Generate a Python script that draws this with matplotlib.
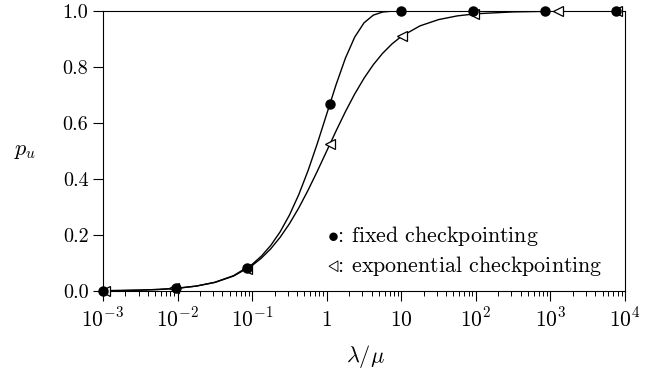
import matplotlib
matplotlib.use("Agg")
import matplotlib.pyplot as plt
import numpy as np

# curve samples
curve_x = [1e-3, 0.00178, 0.00316, 0.00562, 0.01, 0.0178, 0.0316, 0.0562, 0.1,
           0.1334, 0.1778, 0.2371, 0.3162, 0.4217, 0.5623, 0.7499, 1.0, 1.3335,
           1.778, 2.371, 3.162, 4.217, 5.623, 7.499, 10.0, 17.78, 31.62, 56.23,
           100.0, 316.2, 1000.0, 3162.0, 10000.0]
fixed_curve = [0.001, 0.0018, 0.0032, 0.0056, 0.0100, 0.0176, 0.0311, 0.0547, 0.0952,
               0.1249, 0.1629, 0.2111, 0.2711, 0.3441, 0.4301, 0.5276, 0.6321, 0.7364,
               0.8310, 0.9066, 0.9577, 0.9853, 0.9964, 0.9995, 1.0, 1.0, 1.0, 1.0,
               1.0, 1.0, 1.0, 1.0, 1.0]
exp_curve = [0.001, 0.0018, 0.0032, 0.0056, 0.0099, 0.0175, 0.0306, 0.0532, 0.0909,
             0.1177, 0.1509, 0.1917, 0.2402, 0.2966, 0.3600, 0.4285, 0.5000, 0.5714,
             0.6400, 0.7034, 0.7597, 0.8083, 0.8490, 0.8823, 0.9091, 0.9468, 0.9693,
             0.9825, 0.9901, 0.9968, 0.9990, 0.9997, 0.9999]

# markers
fixed_x = [1e-3, 0.0095, 0.085, 1.1, 10, 91, 850, 7600]
fixed_y = [0.001, 0.0095, 0.081, 0.667, 1.0, 1.0, 1.0, 1.0]
exp_x = [1.08e-3, 0.0090, 0.085, 1.12, 10.3, 95, 1260, 7900]
exp_y = [0.001, 0.0090, 0.078, 0.524, 0.909, 0.990, 0.999, 1.0]

xtick_vals = [1e-3, 1e-2, 1e-1, 1, 10, 1e2, 1e3, 1e4]
xtick_labels = [r"$10^{-3}$", r"$10^{-2}$", r"$10^{-1}$", r"$1$", r"$10$",
                r"$10^{2}$", r"$10^{3}$", r"$10^{4}$"]
ytick_vals = [0.0, 0.2, 0.4, 0.6, 0.8, 1.0]
ytick_labels = ["0.0", "0.2", "0.4", "0.6", "0.8", "1.0"]

plt.rcParams["mathtext.fontset"] = "cm"
plt.rcParams["font.family"] = ["cmr10", "DejaVu Serif"]
plt.rcParams["axes.unicode_minus"] = False

fig = plt.figure(figsize=(6.58, 3.77), dpi=100)
ax = fig.add_axes([103/658, 1-291/377, 522/658, 280/377])

ax.plot(curve_x, fixed_curve, color="black", lw=1.0, zorder=2)
ax.plot(curve_x, exp_curve, color="black", lw=1.0, zorder=2)
ax.plot(fixed_x, fixed_y, ls="none", marker="o", ms=6.5, color="black", zorder=4, clip_on=False)
ax.plot(exp_x, exp_y, ls="none", marker="<", ms=7, mfc="white", mec="black", mew=0.9,
        zorder=3, clip_on=False)

ax.set_xscale("log")
ax.set_xlim(1e-3, 1e4)
ax.set_ylim(0, 1.0)
ax.set_xticks(xtick_vals)
ax.set_xticklabels(xtick_labels)
ax.set_yticks(ytick_vals)
ax.set_yticklabels(ytick_labels)
ax.xaxis.set_minor_locator(matplotlib.ticker.LogLocator(base=10, subs=np.arange(2, 10), numticks=20))
ax.xaxis.set_minor_formatter(matplotlib.ticker.NullFormatter())
ax.tick_params(axis="both", which="major", direction="out", length=7.5, width=0.8,
               colors="black")
ax.tick_params(axis="y", which="major", labelsize=14.5, pad=3)
ax.tick_params(axis="x", which="major", labelsize=15.5, pad=18)
ax.tick_params(axis="x", which="minor", direction="out", length=3.8, width=0.7)
for lbl in ax.get_xticklabels():
    lbl.set_va("baseline")
for s in ax.spines.values():
    s.set_linewidth(0.8)
    s.set_color("black")

fig.text(365/658, 1-357/377, r"$\lambda/\mu$", fontsize=16, ha="center", va="center")
fig.text(25/658, 1-151/377, r"$p_u$", fontsize=16, ha="center", va="center")

ax.text(0.429, 0.198, r"$\bullet$: fixed checkpointing", transform=ax.transAxes,
        fontsize=15.8, ha="left", va="center")
ax.text(0.429, 0.091, r"$\triangleleft$: exponential checkpointing", transform=ax.transAxes,
        fontsize=15.8, ha="left", va="center")

fig.savefig("out.png", dpi=100)
